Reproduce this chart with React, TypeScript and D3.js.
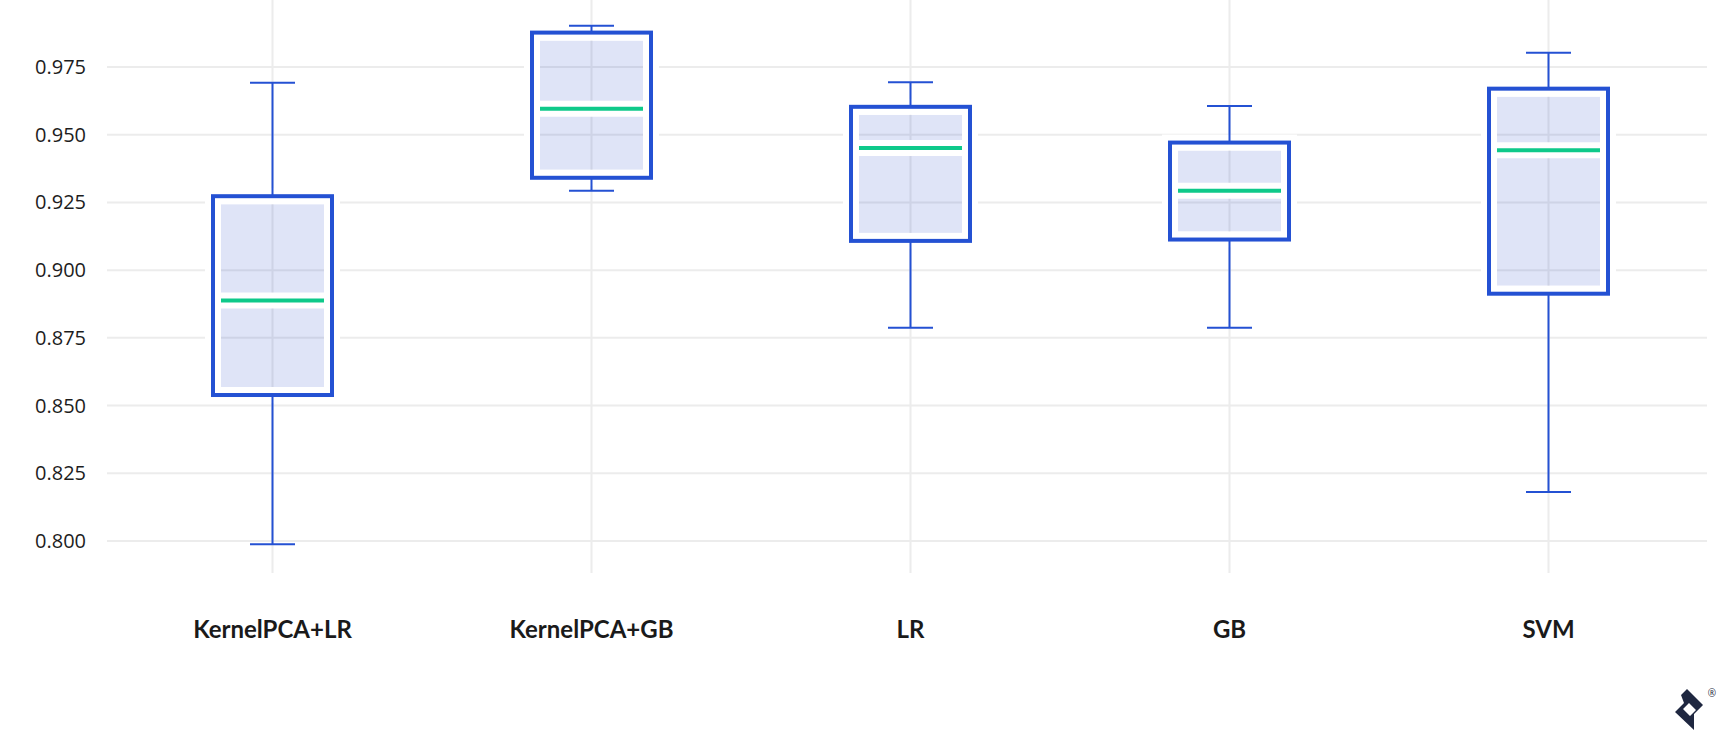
import React from "react";
import * as d3 from "d3";

const categories = ["KernelPCA+LR", "KernelPCA+GB", "LR", "GB", "SVM"];
const whiskerLow = [0.7988, 0.9293, 0.8787, 0.8787, 0.8181];
const q1 = [0.8539, 0.9341, 0.9108, 0.9113, 0.8913];
const median = [0.8888, 0.9596, 0.9451, 0.9293, 0.9443];
const q3 = [0.9273, 0.9877, 0.9603, 0.9471, 0.967];
const whiskerHigh = [0.9692, 0.9902, 0.9694, 0.9606, 0.9803];
const yTicks = [0.8, 0.825, 0.85, 0.875, 0.9, 0.925, 0.95, 0.975];

const W = 1720;
const H = 740;
const BLUE = "#2451d3";
const GREEN = "#0ec98a";
const GRID = "#ececec";

export default function App() {
  const x = d3.scaleBand<string>().domain(categories).range([113, 1708]).padding(0);
  const y = d3.scaleLinear().domain([0.8, 0.975]).range([541, 67]);
  const gridX0 = 107;
  const gridX1 = 1707;
  const gridTop = 0;
  const gridBottom = 573;
  const half = 61.5; // outer half width of box
  const sw = 4; // box stroke
  const inset = 10; // outer edge to inner fill
  const halo = 6;
  const capHalf = 22.5;

  const gridLines = (key: string) => (
    <g key={key}>
      {yTicks.map((t) => (
        <line key={"h" + t} x1={gridX0} x2={gridX1} y1={y(t)} y2={y(t)} stroke={GRID} strokeWidth={2} />
      ))}
      {categories.map((c) => {
        const cx = (x(c) as number) + x.bandwidth() / 2;
        return <line key={"v" + c} x1={cx} x2={cx} y1={gridTop} y2={gridBottom} stroke={GRID} strokeWidth={2} />;
      })}
    </g>
  );

  return (
    <svg
      width={W}
      height={H}
      viewBox={`0 0 ${W} ${H}`}
      style={{ position: "absolute", left: 0, top: 0, background: "#fff" }}
    >
      <rect x={0} y={0} width={W} height={H} fill="#fff" />
      <defs>
        {categories.map((c, i) => {
          const cx = (x(c) as number) + x.bandwidth() / 2;
          const yt = y(q3[i]);
          const yb = y(q1[i]);
          const ym = y(median[i]);
          const ix0 = cx - half + inset;
          const iw = 2 * (half - inset);
          const topY = yt - sw / 2 + inset;
          const botY = yb + sw / 2 - inset;
          return (
            <clipPath id={"clip" + i} key={"clip" + i}>
              <rect x={ix0} y={topY} width={iw} height={Math.max(0, ym - 8 - topY)} />
              <rect x={ix0} y={ym + 8} width={iw} height={Math.max(0, botY - ym - 8)} />
            </clipPath>
          );
        })}
      </defs>
      {gridLines("grid")}
      {/* y tick labels */}
      {yTicks.map((t) => (
        <text
          key={"yl" + t}
          x={86}
          y={y(t)}
          dy="0.35em"
          textAnchor="end"
          fontFamily="'Open Sans', sans-serif"
          fontSize={20}
          fill="#1d1d1d"
        >
          {d3.format(".3f")(t)}
        </text>
      ))}
      {categories.map((c, i) => {
        const cx = (x(c) as number) + x.bandwidth() / 2;
        const yt = y(q3[i]);
        const yb = y(q1[i]);
        const ym = y(median[i]);
        const ix0 = cx - half + inset;
        const iw = 2 * (half - inset);
        const topY = yt - sw / 2 + inset;
        const botY = yb + sw / 2 - inset;
        return (
          <g key={"box" + c}>
            {/* halo */}
            <rect
              x={cx - half - halo}
              y={yt - sw / 2 - halo}
              width={2 * (half + halo)}
              height={yb - yt + sw + 2 * halo}
              fill="#fff"
            />
            {/* whiskers */}
            <line x1={cx} x2={cx} y1={y(whiskerHigh[i])} y2={yt} stroke={BLUE} strokeWidth={2} />
            <line x1={cx} x2={cx} y1={yb} y2={y(whiskerLow[i])} stroke={BLUE} strokeWidth={2} />
            <line x1={cx - capHalf} x2={cx + capHalf} y1={y(whiskerHigh[i])} y2={y(whiskerHigh[i])} stroke={BLUE} strokeWidth={2} />
            <line x1={cx - capHalf} x2={cx + capHalf} y1={y(whiskerLow[i])} y2={y(whiskerLow[i])} stroke={BLUE} strokeWidth={2} />
            {/* box */}
            <rect
              x={cx - half + sw / 2}
              y={yt}
              width={2 * half - sw}
              height={yb - yt}
              fill="#fff"
              stroke={BLUE}
              strokeWidth={sw}
            />
            {/* grid visible through inner fill */}
            <g clipPath={`url(#clip${i})`}>
              {gridLines("g" + i)}
              <rect x={ix0} y={topY} width={iw} height={botY - topY} fill="rgb(42,75,202)" fillOpacity={0.15} />
            </g>
            {/* median */}
            <line x1={ix0} x2={ix0 + iw} y1={ym} y2={ym} stroke={GREEN} strokeWidth={4} />
            {/* category label */}
            <text
              x={cx}
              y={638}
              textAnchor="middle"
              fontFamily="Lato, sans-serif"
              fontWeight={700}
              fontSize={24}
              fill="#1a1a1a"
            >
              {c}
            </text>
          </g>
        );
      })}
      {/* logo */}
      <path
        d="M1681,695 L1687,689 L1703,705 L1694,714 L1694,730 L1675,712 L1684,703 Z M1689,703 L1696,710 L1690,716 L1683,709 Z"
        fill="#1f2740"
        fillRule="evenodd"
      />
      <text x={1712} y={697} textAnchor="middle" fontFamily="'Open Sans', sans-serif" fontSize={10} fill="#1f2740">
        ®
      </text>
    </svg>
  );
}
